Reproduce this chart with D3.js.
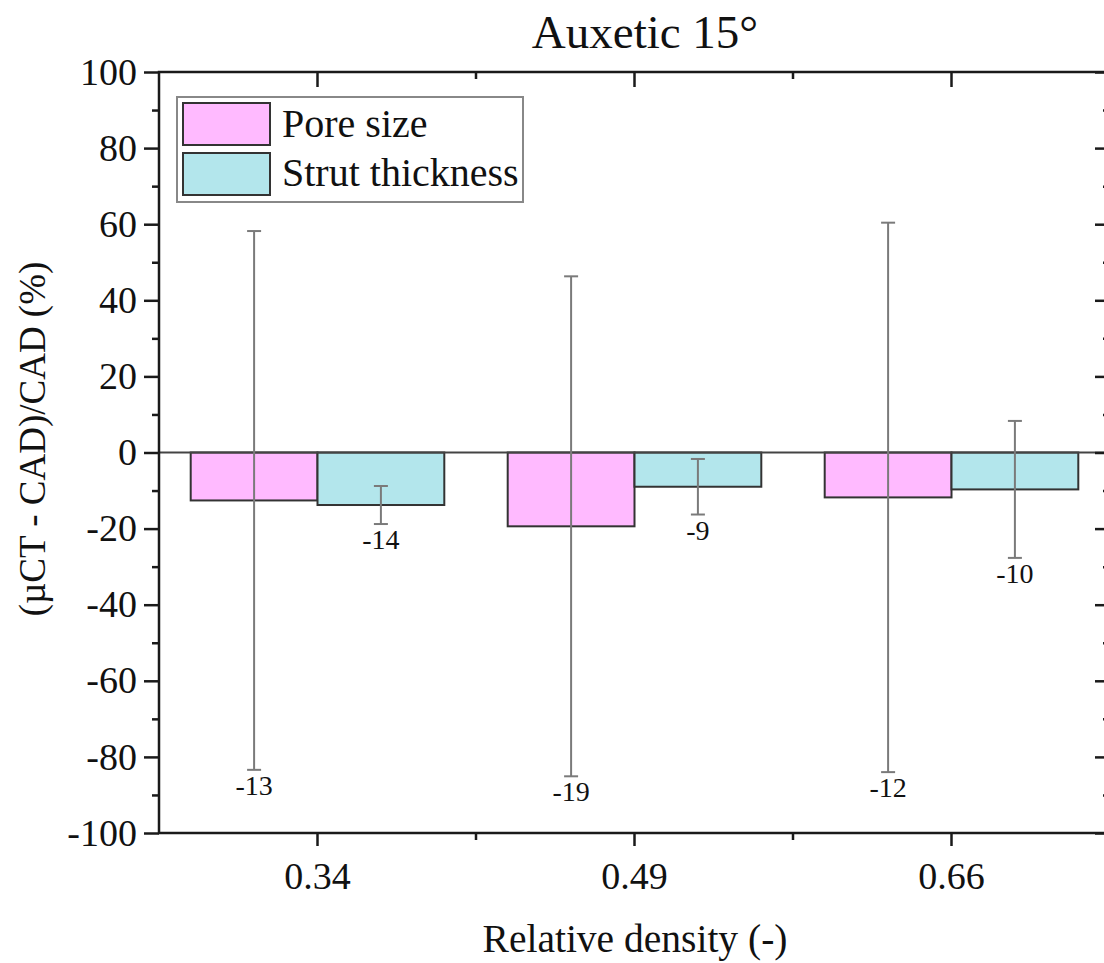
<!DOCTYPE html>
<html>
<head>
<meta charset="utf-8">
<script src="https://cdn.jsdelivr.net/npm/d3@7"></script>
<style>
  html, body { margin: 0; padding: 0; background: #fff; overflow: hidden; }
  svg { display: block; }
  text { font-family: "Liberation Serif", "Times New Roman", serif; fill: #111; }
</style>
</head>
<body>
<svg id="chart" width="1104" height="963"></svg>
<script>
// ---- data ----
const categories = ["0.34", "0.49", "0.66"];
const seriesNames = ["Pore size", "Strut thickness"];
const poreMean = [-12.6, -19.4, -11.8];
const poreErr = [70.8, 65.7, 72.2];
const strutMean = [-13.8, -9.0, -9.7];
const strutErr = [5.0, 7.3, 18.0];
const yTicks = [-100, -80, -60, -40, -20, 0, 20, 40, 60, 80, 100];
const yMinorTicks = [-90, -70, -50, -30, -10, 10, 30, 50, 70, 90];
const seriesColors = ["#FFBAFF", "#B3E6EC"];
const titleText = "Auxetic 15°";
const xTitle = "Relative density (-)";
const yTitle = "(µCT - CAD)/CAD (%)";

const rows = [];
categories.forEach((c, i) => {
  rows.push({cat: c, s: seriesNames[0], v: poreMean[i], e: poreErr[i]});
  rows.push({cat: c, s: seriesNames[1], v: strutMean[i], e: strutErr[i]});
});

// ---- layout ----
const L = 159, R = 1110, T = 72, B = 833;
const svg = d3.select("#chart");

const x = d3.scaleBand().domain(categories).range([L, R]).paddingInner(0).paddingOuter(0);
const xs = d3.scaleBand().domain(seriesNames).range([0, x.bandwidth()]).paddingInner(0).paddingOuter(0.25);
const y = d3.scaleLinear().domain([-100, 100]).range([B, T]);
const color = d3.scaleOrdinal().domain(seriesNames).range(seriesColors);

// bars
svg.append("g").selectAll("rect").data(rows).join("rect")
  .attr("x", d => x(d.cat) + xs(d.s))
  .attr("y", d => Math.min(y(d.v), y(0)))
  .attr("width", xs.bandwidth())
  .attr("height", d => Math.abs(y(d.v) - y(0)))
  .attr("fill", d => color(d.s))
  .attr("stroke", "#333")
  .attr("stroke-width", 2);

// zero line
svg.append("line")
  .attr("x1", L).attr("x2", R).attr("y1", y(0)).attr("y2", y(0))
  .attr("stroke", "#444").attr("stroke-width", 2.2);

// error bars
const eg = svg.append("g").attr("stroke", "#7a7a7a").attr("stroke-width", 2);
const cx = d => x(d.cat) + xs(d.s) + xs.bandwidth() / 2;
eg.selectAll("line.v").data(rows).join("line").attr("class", "v")
  .attr("x1", cx).attr("x2", cx)
  .attr("y1", d => y(d.v + d.e)).attr("y2", d => y(d.v - d.e));
eg.selectAll("line.t").data(rows).join("line").attr("class", "t")
  .attr("x1", d => cx(d) - 7).attr("x2", d => cx(d) + 7)
  .attr("y1", d => y(d.v + d.e)).attr("y2", d => y(d.v + d.e));
eg.selectAll("line.b").data(rows).join("line").attr("class", "b")
  .attr("x1", d => cx(d) - 7).attr("x2", d => cx(d) + 7)
  .attr("y1", d => y(d.v - d.e)).attr("y2", d => y(d.v - d.e));

// value labels (hyphen-minus, as in the reference)
const fmt = v => String(Math.round(Math.abs(v)) * Math.sign(v));
svg.append("g").selectAll("text").data(rows).join("text")
  .attr("x", cx)
  .attr("y", d => y(d.v - d.e) + 25)
  .attr("text-anchor", "middle")
  .attr("font-size", 28)
  .text(d => fmt(d.v));

// frame
svg.append("rect")
  .attr("x", L).attr("y", T).attr("width", R - L).attr("height", B - T)
  .attr("fill", "none").attr("stroke", "#1a1a1a").attr("stroke-width", 2.5);

// left axis (outward ticks)
const leftAxis = svg.append("g").attr("transform", `translate(${L},0)`)
  .call(d3.axisLeft(y).tickValues(yTicks).tickSize(15).tickPadding(7).tickFormat(d => String(d)));
const leftMinor = svg.append("g").attr("transform", `translate(${L},0)`)
  .call(d3.axisLeft(y).tickValues(yMinorTicks).tickSize(7).tickFormat(""));

// right axis (inward ticks)
const rightAxis = svg.append("g").attr("transform", `translate(${R},0)`)
  .call(d3.axisLeft(y).tickValues(yTicks).tickSize(15).tickFormat(""));
rightAxis.selectAll(".tick line").attr("x2", -15);
const rightMinor = svg.append("g").attr("transform", `translate(${R},0)`)
  .call(d3.axisLeft(y).tickValues(yMinorTicks).tickSize(7).tickFormat(""));
rightMinor.selectAll(".tick line").attr("x2", -7);

// bottom axis (outward)
const bottomAxis = svg.append("g").attr("transform", `translate(0,${B})`)
  .call(d3.axisBottom(x).tickSize(13).tickPadding(16));
const boundaries = categories.slice(0, -1).map(c => x(c) + x.bandwidth());
svg.append("g").selectAll("line").data(boundaries).join("line")
  .attr("x1", d => d).attr("x2", d => d).attr("y1", B).attr("y2", B + 7)
  .attr("stroke", "#1a1a1a").attr("stroke-width", 2.5);

// top axis (inward)
const topAxis = svg.append("g").attr("transform", `translate(0,${T})`)
  .call(d3.axisBottom(x).tickSize(15).tickFormat(""));
svg.append("g").selectAll("line").data(boundaries).join("line")
  .attr("x1", d => d).attr("x2", d => d).attr("y1", T).attr("y2", T + 7)
  .attr("stroke", "#1a1a1a").attr("stroke-width", 2.5);

[leftAxis, leftMinor, rightAxis, rightMinor, bottomAxis, topAxis].forEach(g => {
  g.select(".domain").remove();
  g.selectAll(".tick line").attr("stroke", "#1a1a1a").attr("stroke-width", 2.5);
  g.selectAll(".tick text").attr("font-size", 38).attr("font-family", "'Liberation Serif', 'Times New Roman', serif").attr("fill", "#111");
});
bottomAxis.selectAll(".tick text").attr("dy", "0.71em");

// titles
svg.append("text").attr("x", 645).attr("y", 48).attr("text-anchor", "middle")
  .attr("font-size", 47).text(titleText);
svg.append("text").attr("x", 635).attr("y", 952).attr("text-anchor", "middle")
  .attr("font-size", 39.5).text(xTitle);
svg.append("text").attr("transform", "translate(45,439) rotate(-90)").attr("text-anchor", "middle")
  .attr("font-size", 37).text(yTitle);

// legend
const lg = svg.append("g");
lg.append("rect").attr("x", 177).attr("y", 97).attr("width", 346).attr("height", 105)
  .attr("fill", "#fff").attr("stroke", "#888").attr("stroke-width", 2);
seriesNames.forEach((s, i) => {
  lg.append("rect").attr("x", 183).attr("y", 103 + i * 50).attr("width", 87).attr("height", 42)
    .attr("fill", color(s)).attr("stroke", "#333").attr("stroke-width", 2);
  lg.append("text").attr("x", 282).attr("y", 137 + i * 49).attr("font-size", 40).text(s);
});
</script>
</body>
</html>
